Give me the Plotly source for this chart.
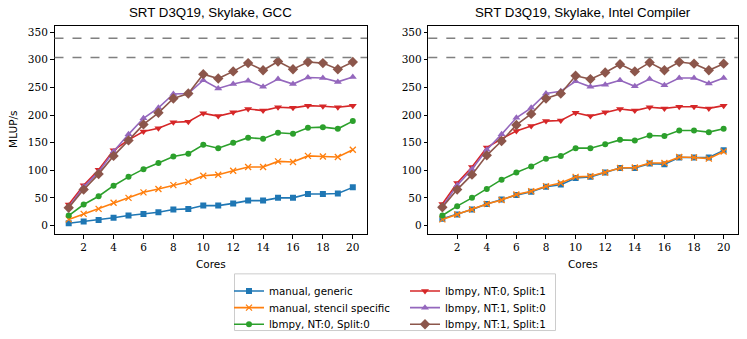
import plotly.graph_objects as go
from plotly.subplots import make_subplots

cores = list(range(1, 21))

# GCC
gcc_generic = [4, 7, 10, 14, 18, 21, 24, 29, 30, 36, 36, 40, 45, 45, 50, 50, 57, 57, 58, 69]
gcc_stencil = [11, 21, 30, 41, 50, 60, 66, 73, 79, 90, 92, 99, 106, 106, 116, 115, 126, 125, 124, 137]
gcc_nt0_s0 = [18, 38, 53, 72, 88, 102, 113, 125, 130, 146, 140, 150, 159, 157, 168, 166, 177, 178, 175, 189]
gcc_nt0_s1 = [38, 73, 101, 136, 155, 170, 176, 187, 188, 203, 198, 205, 211, 208, 214, 213, 217, 216, 214, 217]
gcc_nt1_s0 = [33, 70, 97, 134, 165, 194, 213, 238, 239, 263, 248, 256, 262, 251, 265, 256, 268, 267, 260, 269]
gcc_nt1_s1 = [32, 65, 93, 126, 154, 183, 204, 230, 239, 274, 266, 279, 294, 281, 297, 283, 296, 294, 283, 296]

# Intel
icc_generic = [12, 20, 29, 39, 47, 55, 61, 70, 74, 86, 88, 96, 104, 104, 112, 111, 123, 123, 123, 136]
icc_stencil = [11, 20, 29, 39, 46, 56, 62, 71, 77, 88, 89, 96, 104, 105, 113, 113, 124, 123, 121, 134]
icc_nt0_s0 = [18, 35, 50, 66, 83, 96, 107, 121, 126, 140, 140, 147, 155, 154, 163, 162, 172, 172, 169, 175]
icc_nt0_s1 = [39, 77, 106, 141, 157, 171, 180, 189, 190, 204, 198, 205, 211, 208, 214, 212, 215, 215, 212, 217]
icc_nt1_s0 = [34, 73, 102, 137, 165, 195, 213, 239, 243, 261, 251, 255, 263, 252, 265, 254, 267, 267, 257, 267]
icc_nt1_s1 = [33, 65, 92, 127, 153, 182, 202, 230, 239, 271, 265, 277, 292, 279, 295, 281, 296, 293, 281, 293]

peaks = [339, 304]

names = ["manual, generic", "manual, stencil specific", "lbmpy, NT:0, Split:0",
         "lbmpy, NT:0, Split:1", "lbmpy, NT:1, Split:0", "lbmpy, NT:1, Split:1"]
colors = ["#1f77b4", "#ff7f0e", "#2ca02c", "#d62728", "#9467bd", "#8c564b"]
symbols = ["square", "x-thin-open", "circle", "triangle-down", "triangle-up", "diamond"]
titles = ["SRT D3Q19, Skylake, GCC", "SRT D3Q19, Skylake, Intel Compiler"]

gcc = [gcc_generic, gcc_stencil, gcc_nt0_s0, gcc_nt0_s1, gcc_nt1_s0, gcc_nt1_s1]
icc = [icc_generic, icc_stencil, icc_nt0_s0, icc_nt0_s1, icc_nt1_s0, icc_nt1_s1]

W, H = 747, 339
fig = make_subplots(rows=1, cols=2)

# one legend per entry so rows can sit as tight as matplotlib's
legend_ids = ["legend", "legend2", "legend3", "legend4", "legend5", "legend6"]

for col, series in enumerate([gcc, icc], start=1):
    for i, ys in enumerate(series):
        sym = symbols[i]
        marker = dict(symbol=sym, size=6, color=colors[i])
        if sym == "x-thin-open":
            marker.update(size=6, line=dict(width=1.3, color=colors[i]))
        elif sym == "diamond":
            marker.update(size=8)
        elif sym.startswith("triangle"):
            marker.update(size=7)
        fig.add_trace(go.Scatter(
            x=cores, y=ys, name=names[i], mode="lines+markers",
            line=dict(color=colors[i], width=1.6), marker=marker,
            showlegend=(col == 1), legend=legend_ids[i],
        ), row=1, col=col)
    for p in peaks:
        fig.add_hline(y=p, line=dict(color="#808080", width=1.5, dash="dash"), row=1, col=col)

def px_x(v):
    return v / W

def px_y(v):
    return 1 - v / H

tick_font = dict(family="DejaVu Serif", size=10.5, color="black")
axis_common = dict(showline=True, linecolor="black", linewidth=1, mirror=True,
                   ticks="outside", ticklen=3.5, tickcolor="black", tickwidth=1,
                   showgrid=False, zeroline=False, tickfont=tick_font, automargin=False)

fig.update_xaxes(range=[0.05, 20.95], tickvals=list(range(2, 21, 2)), **axis_common)
fig.update_yaxes(range=[-16, 362], tickvals=list(range(0, 351, 50)), **axis_common)

fig.update_layout(
    xaxis=dict(domain=[px_x(54.5), px_x(367)]),
    xaxis2=dict(domain=[px_x(428.3), px_x(737.7)]),
    yaxis=dict(domain=[px_y(235.7), px_y(25.7)]),
    yaxis2=dict(domain=[px_y(235.7), px_y(25.7)]),
)

label_font = dict(family="DejaVu Sans", size=10.5, color="black")
annotations = []
for t, (a, b) in zip(titles, [(54.5, 367), (428.3, 737.7)]):
    annotations.append(dict(text=t, x=px_x((a + b) / 2), y=px_y(13), xref="paper", yref="paper",
                            xanchor="center", yanchor="middle", showarrow=False,
                            font=dict(family="Liberation Sans", size=13.3, color="black")))
    annotations.append(dict(text="Cores", x=px_x((a + b) / 2), y=px_y(265.5), xref="paper", yref="paper",
                            xanchor="center", yanchor="middle", showarrow=False, font=label_font))
annotations.append(dict(text="MLUP/s", x=px_x(13), y=px_y(130.7), xref="paper", yref="paper",
                        xanchor="center", yanchor="middle", textangle=-90, showarrow=False,
                        font=label_font))

legend_common = dict(orientation="v", xanchor="left", yanchor="top", bgcolor="rgba(0,0,0,0)",
                     borderwidth=0, font=dict(family="DejaVu Sans", size=10.3, color="black"),
                     itemwidth=30)
row_centers = [287.7, 304.4, 321.1]
legends = {}
for i, lid in enumerate(legend_ids):
    lx = 229 if i < 3 else 405
    legends[lid] = dict(x=px_x(lx), y=px_y(row_centers[i % 3] - 9.5), **legend_common)

fig.update_layout(
    width=W, height=H, margin=dict(l=0, r=0, t=0, b=0),
    plot_bgcolor="white", paper_bgcolor="white",
    annotations=annotations,
    shapes=list(fig.layout.shapes) + [dict(type="rect", xref="paper", yref="paper",
                                           x0=px_x(234.5), x1=px_x(555.5), y0=px_y(332.5), y1=px_y(275.5),
                                           line=dict(color="#cccccc", width=1))],
    **legends,
)

fig.write_html("out.html", config={"displayModeBar": False},
               post_script="document.body.style.margin='0px';")
